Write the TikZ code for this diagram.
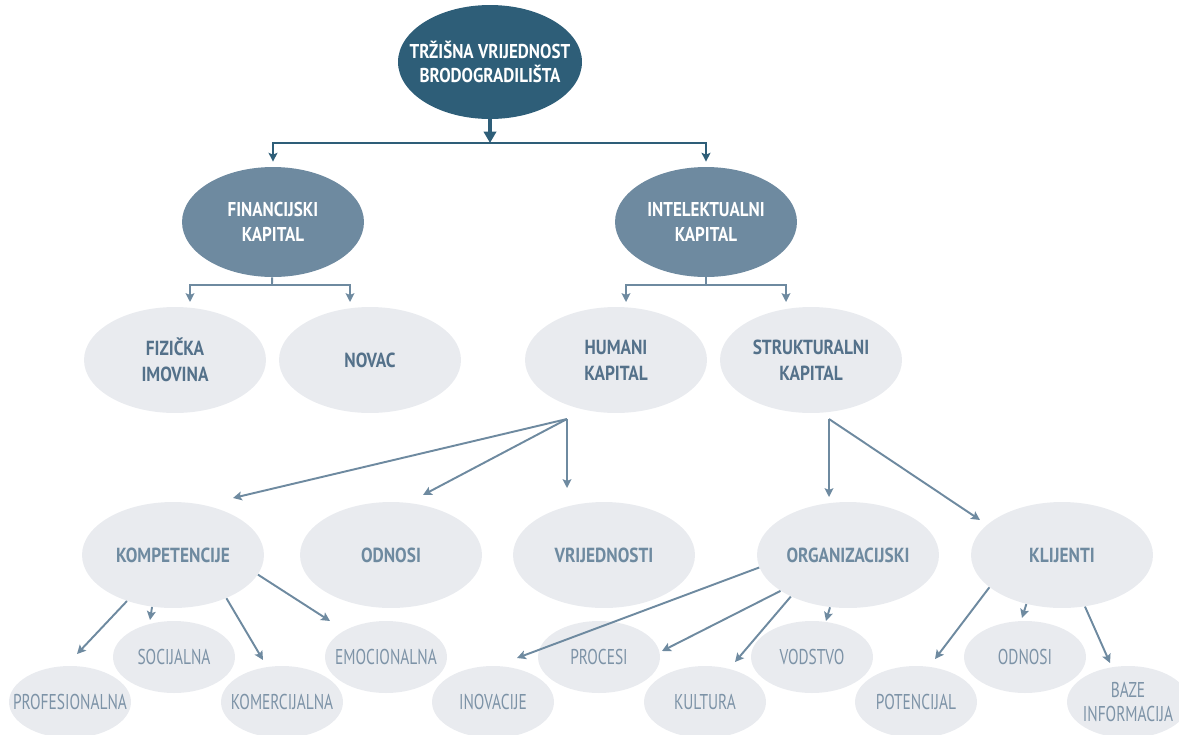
\documentclass[tikz,border=0pt]{standalone}
\usepackage{fontspec}
\setmainfont{PT Sans}[UprightFeatures={FakeStretch=0.72},BoldFeatures={FakeStretch=0.85}]
\usetikzlibrary{shapes.geometric,arrows.meta}

\definecolor{darkblue}{HTML}{2E5E78}
\definecolor{midblue}{HTML}{6E8AA0}
\definecolor{partblue}{HTML}{54718A}
\definecolor{bubblegray}{HTML}{E9EBEF}
\definecolor{leaftext}{HTML}{7D93A7}

\begin{document}
\begin{tikzpicture}[x=0.02cm,y=-0.02cm,
	bubble/.style={ellipse,inner xsep=-0.8cm,inner ysep=0pt,align=center},
	root/.style={bubble,fill=darkblue,text=white,font=\bfseries\fontsize{11.4}{13.3}\selectfont,minimum width=3.68cm,minimum height=2.28cm},
	branch/.style={bubble,fill=midblue,text=white,font=\bfseries\fontsize{11.4}{14.4}\selectfont,minimum width=3.64cm,minimum height=2.2cm},
	part/.style={bubble,fill=bubblegray,text=partblue,font=\bfseries\fontsize{11.6}{14.8}\selectfont,minimum width=3.64cm,minimum height=2.12cm},
	subpart/.style={part,text=midblue},
	leaf/.style={bubble,fill=bubblegray,text=leaftext,font=\fontsize{12.2}{14.2}\selectfont,minimum width=2.44cm,minimum height=1.44cm},
	stem/.style={darkblue,line width=2.5pt,-{Triangle[length=6.5pt,width=7pt]}},
	toplink/.style={darkblue,line width=1.2pt,-{Stealth[length=5pt,width=5pt,inset=1pt]}},
	link/.style={midblue,line width=1.1pt,-{Stealth[length=5pt,width=5pt,inset=1pt]}},
	]
	\useasboundingbox (0,0) rectangle (1179,734);

	% first two levels
	\node[root] (tv) at (490,62) {TRŽIŠNA VRIJEDNOST\\BRODOGRADILIŠTA};
	\node[branch] (fk) at (273,222) {FINANCIJSKI\\KAPITAL};
	\node[branch] (ik) at (706,222) {INTELEKTUALNI\\KAPITAL};

	\node[part] (fi) at (175,360) {FIZIČKA\\IMOVINA};
	\node[part] (nov) at (370,360) {NOVAC};
	\node[part] (hk) at (616,360) {HUMANI\\KAPITAL};
	\node[part] (sk) at (811,360) {STRUKTURALNI\\KAPITAL};

	\node[subpart] (komp) at (173,555) {KOMPETENCIJE};
	\node[subpart] (odn) at (391,555) {ODNOSI};
	\node[subpart] (vrij) at (604,555) {VRIJEDNOSTI};
	\node[subpart] (org) at (848,555) {ORGANIZACIJSKI};
	\node[subpart] (klij) at (1062,555) {KLIJENTI};

	% bottom row
	\node[leaf] (prof) at (70,702) {PROFESIONALNA};
	\node[leaf] (soc) at (174,657) {SOCIJALNA};
	\node[leaf] (kom) at (282,702) {KOMERCIJALNA};
	\node[leaf] (emo) at (386,657) {EMOCIONALNA};
	\node[leaf] (inov) at (493,702) {INOVACIJE};
	\node[leaf] (proc) at (599,657) {PROCESI};
	\node[leaf] (kult) at (705,702) {KULTURA};
	\node[leaf] (vod) at (812,657) {VODSTVO};
	\node[leaf] (pot) at (916,702) {POTENCIJAL};
	\node[leaf] (odn2) at (1025,657) {ODNOSI};
	\node[leaf] (baze) at (1128,702) {BAZE\\INFORMACIJA};

	% split points and arrow ends
	\coordinate (tv-split) at (490,143);
	\coordinate (fk-split) at (272,285);
	\coordinate (ik-split) at (706,285);
	\coordinate (fi-in) at (190,302);
	\coordinate (nov-in) at (350,302);
	\coordinate (hk-in) at (626,302);
	\coordinate (sk-in) at (786,302);
	\coordinate (hk-split) at (567,419);
	\coordinate (sk-split) at (829,419);

	\draw[stem] (tv) -- (tv-split);
	\draw[toplink,shorten >=0.1cm] (tv-split) -| (fk);
	\draw[toplink,shorten >=0.1cm] (tv-split) -| (ik);

	\draw[midblue,line width=1.1pt] (fk) -- (fk-split);
	\draw[link] (fk-split) -| (fi-in);
	\draw[link] (fk-split) -| (nov-in);
	\draw[midblue,line width=1.1pt] (ik) -- (ik-split);
	\draw[link] (ik-split) -| (hk-in);
	\draw[link] (ik-split) -| (sk-in);

	\draw[link] (hk-split) -- (233,498) coordinate (komp-in);
	\draw[link] (hk-split) -- (423,495) coordinate (odn-in);
	\draw[link] (hk-split) -- (567,488) coordinate (vrij-in);
	\draw[link] (sk-split) -- (829,497) coordinate (org-in);
	\draw[link] (sk-split) -- (980,520) coordinate (klij-in);

	\draw[link] (komp.-135) -- (77,654) coordinate (prof-in);
	\draw[link] (komp.-112) -- (150,620) coordinate (soc-in);
	\draw[link] (komp.-39) -- (263,660) coordinate (kom-in);
	\draw[link] (komp.-13) -- (330,621) coordinate (emo-in);

	\draw[link] (org.-172) -- (517,658) coordinate (inov-in);
	\draw[link] (org.-152) -- (662,651) coordinate (proc-in);
	\draw[link] (org.-144) -- (735,662) coordinate (kult-in);
	\draw[link] (org.-109) -- (826,621) coordinate (vod-in);

	\draw[link] (klij.-156) -- (935,659) coordinate (pot-in);
	\draw[link] (klij.-126) -- (1022,618) coordinate (odn2-in);
	\draw[link] (klij.-66) -- (1110,663) coordinate (baze-in);
\end{tikzpicture}
\end{document}
